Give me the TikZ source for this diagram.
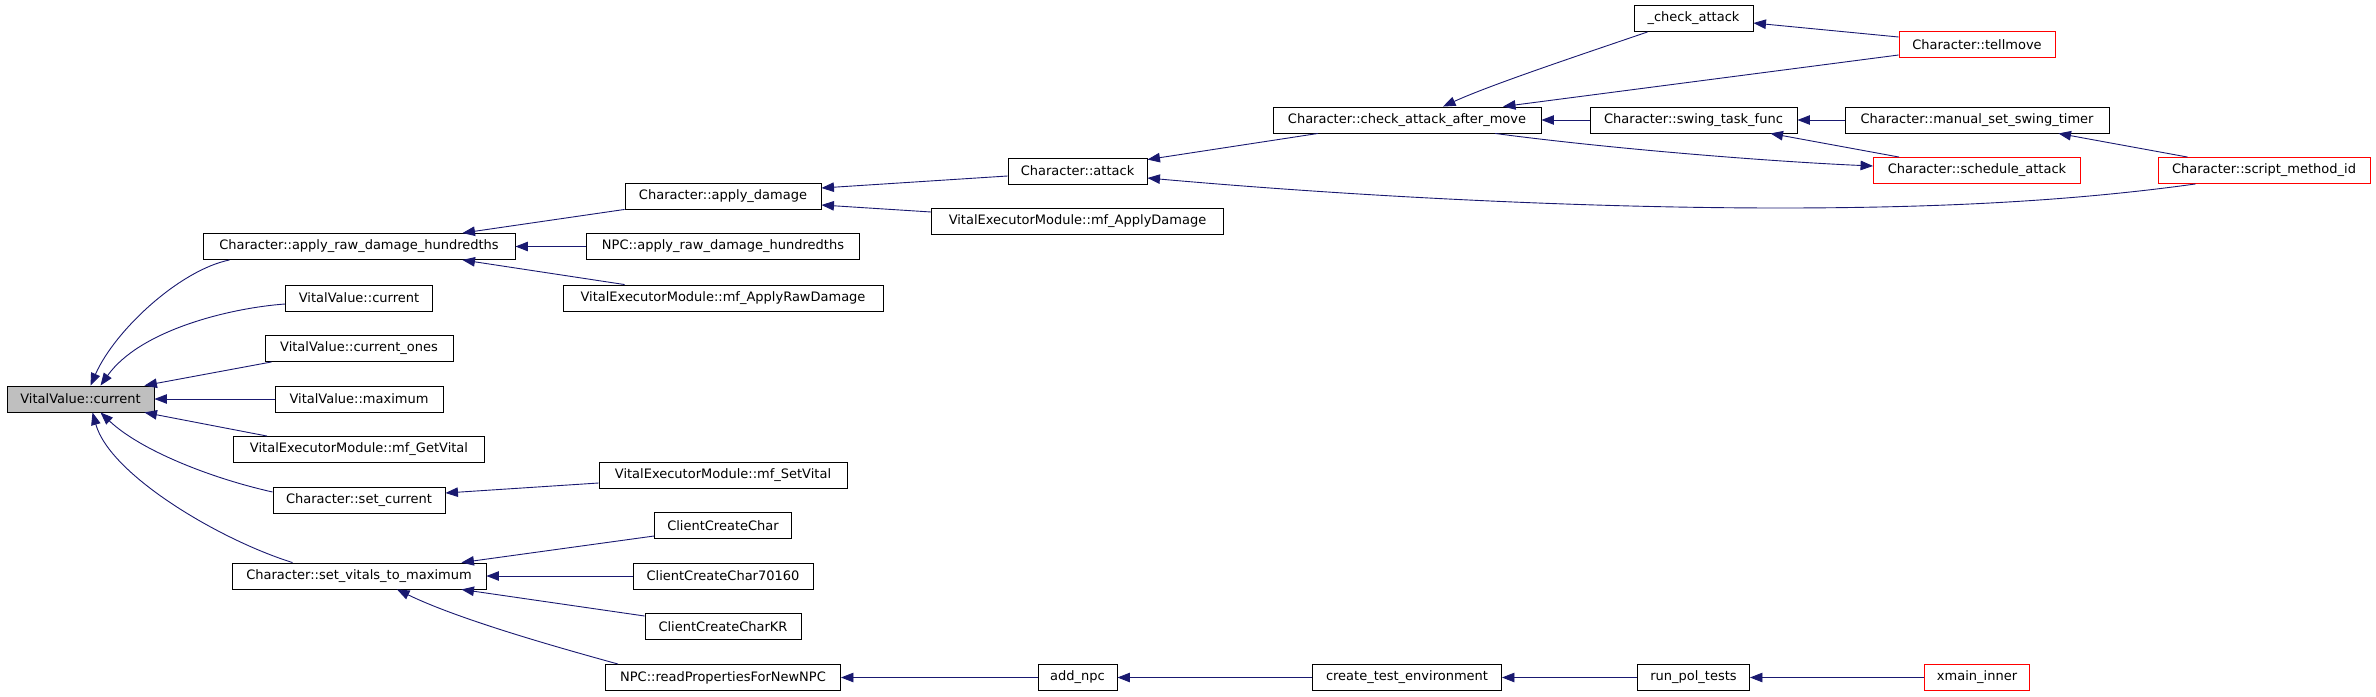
\documentclass[tikz,border=0pt]{standalone}
\usepackage{fontspec}
\setmainfont{DejaVu Sans}
\usetikzlibrary{arrows.meta}
\definecolor{edgeblue}{HTML}{191970}
\definecolor{rootgray}{HTML}{BFBFBF}
\begin{document}
\begin{tikzpicture}[x=1pt,y=-1pt,>={Triangle[length=12.5pt,width=9.5pt]},
  fn/.style={draw, fill=white, line width=0.9pt, minimum height=26pt, inner xsep=3pt, inner ysep=0pt, font=\fontsize{13}{15}\selectfont},
  redfn/.style={fn, draw=red},
  edge/.style={->, edgeblue, line width=0.9pt}]
\useasboundingbox (0,0) rectangle (2376,696);

\node[fn, fill=rootgray, minimum width=147pt] (root) at (80.5,399) {VitalValue::current};

\node[fn, minimum width=312pt] (applyraw) at (359,246.5) {Character::apply\_raw\_damage\_hundredths};
\node[fn, minimum width=147pt] (vvcurrent) at (359,298) {VitalValue::current};
\node[fn, minimum width=188pt] (currentones) at (359,348.5) {VitalValue::current\_ones};
\node[fn, minimum width=168pt] (maximum) at (359,399) {VitalValue::maximum};
\node[fn, minimum width=251pt] (getvital) at (359,449.5) {VitalExecutorModule::mf\_GetVital};
\node[fn, minimum width=172pt] (setcurrent) at (359,500) {Character::set\_current};
\node[fn, minimum width=254pt] (setvitals) at (359,576) {Character::set\_vitals\_to\_maximum};

\node[fn, minimum width=196pt] (applydamage) at (723,196) {Character::apply\_damage};
\node[fn, minimum width=273pt] (npcapply) at (723,246.5) {NPC::apply\_raw\_damage\_hundredths};
\node[fn, minimum width=320pt] (applyrawdmg) at (723,298) {VitalExecutorModule::mf\_ApplyRawDamage};
\node[fn, minimum width=248pt] (setvital) at (723,475) {VitalExecutorModule::mf\_SetVital};
\node[fn, minimum width=137pt] (ccc) at (723,525.5) {ClientCreateChar};
\node[fn, minimum width=180pt] (ccc70160) at (723,576) {ClientCreateChar70160};
\node[fn, minimum width=156pt] (ccckr) at (723,626.5) {ClientCreateCharKR};
\node[fn, minimum width=235pt] (readprops) at (723,677.5) {NPC::readPropertiesForNewNPC};

\node[fn, minimum width=139pt] (attack) at (1077.5,171) {Character::attack};
\node[fn, minimum width=292pt] (applydmgmod) at (1077.5,221.5) {VitalExecutorModule::mf\_ApplyDamage};
\node[fn, minimum width=79pt] (addnpc) at (1077.5,677.5) {add\_npc};

\node[fn, minimum width=268pt] (checkafter) at (1407,120) {Character::check\_attack\_after\_move};
\node[fn, minimum width=189pt] (createtest) at (1407,677.5) {create\_test\_environment};

\node[fn, minimum width=119pt] (checkattack) at (1693.5,18.5) {\_check\_attack};
\node[fn, minimum width=207pt] (swing) at (1693.5,120) {Character::swing\_task\_func};
\node[fn, minimum width=112pt] (runpol) at (1693.5,677.5) {run\_pol\_tests};

\node[redfn, minimum width=156pt] (tellmove) at (1977,44.5) {Character::tellmove};
\node[fn, minimum width=264pt] (manual) at (1977,120) {Character::manual\_set\_swing\_timer};
\node[redfn, minimum width=207pt] (schedule) at (1977,170.5) {Character::schedule\_attack};
\node[redfn, minimum width=105pt] (xmain) at (1977,677.5) {xmain\_inner};

\node[redfn, minimum width=212pt] (script) at (2264,170.5) {Character::script\_method\_id};

\draw[edge] ([xshift=27pt]applyraw.south west) .. controls (180,270) and (115,330) .. ([xshift=10pt]root.north);
\draw[edge] ([yshift=-6pt]vvcurrent.west) .. controls (230,308) and (140,330) .. ([xshift=20pt]root.north);
\draw[edge] ([xshift=7pt]currentones.south west) -- ([xshift=-10pt]root.north east);
\draw[edge] (maximum.west) -- (root.east);
\draw[edge] ([xshift=34pt]getvital.north west) -- ([xshift=-10pt]root.south east);
\draw[edge] ([yshift=8pt]setcurrent.west) .. controls (210,478) and (140,450) .. ([xshift=20pt]root.south);
\draw[edge] ([xshift=61pt]setvitals.north west) .. controls (220,540) and (110,475) .. ([xshift=12pt]root.south);

\draw[edge] (applydamage.south west) -- ([xshift=-53pt]applyraw.north east);
\draw[edge] (npcapply.west) -- (applyraw.east);
\draw[edge] ([xshift=62pt]applyrawdmg.north west) -- ([xshift=-53pt]applyraw.south east);

\draw[edge] ([yshift=-5pt]attack.west) -- ([yshift=8pt]applydamage.east);
\draw[edge] ([yshift=9.5pt]applydmgmod.west) -- ([yshift=-9pt]applydamage.east);

\draw[edge] ([xshift=-89pt]checkafter.south) -- ([yshift=-2pt]attack.north east);
\draw[edge] ([xshift=38pt]script.south west) .. controls (2080,200) and (1950,208) .. (1780,208)
  .. controls (1580,208) and (1350,196) .. ([yshift=-7pt]attack.east);

\draw[edge] ([xshift=14pt]checkattack.south west) .. controls (1580,55) and (1490,85) .. ([xshift=36pt]checkafter.north);
\draw[edge] ([yshift=-10.5pt]tellmove.west) -- ([xshift=96pt]checkafter.north);
\draw[edge] (swing.west) -- (checkafter.east);
\draw[edge] ([xshift=88pt]checkafter.south) .. controls (1620,150) and (1780,162) .. ([yshift=4.5pt]schedule.west);

\draw[edge] ([yshift=7.5pt]tellmove.west) -- ([yshift=-4.5pt]checkattack.east);
\draw[edge] (manual.west) -- (swing.east);
\draw[edge] ([xshift=26pt]schedule.north west) -- ([xshift=-27pt]swing.south east);
\draw[edge] ([xshift=30pt]script.north west) -- ([xshift=-51pt]manual.south east);

\draw[edge] ([yshift=-8pt]setvital.west) -- ([yshift=7pt]setcurrent.east);
\draw[edge] ([yshift=-10.5pt]ccc.west) -- ([xshift=-25pt]setvitals.north east);
\draw[edge] (ccc70160.west) -- (setvitals.east);
\draw[edge] ([yshift=10.5pt]ccckr.west) -- ([xshift=-25pt]setvitals.south east);
\draw[edge] ([xshift=13pt]readprops.north west) .. controls (560,648) and (460,620) .. ([xshift=38pt]setvitals.south);

\draw[edge] (addnpc.west) -- (readprops.east);
\draw[edge] (createtest.west) -- (addnpc.east);
\draw[edge] (runpol.west) -- (createtest.east);
\draw[edge] (xmain.west) -- (runpol.east);
\end{tikzpicture}
\end{document}
